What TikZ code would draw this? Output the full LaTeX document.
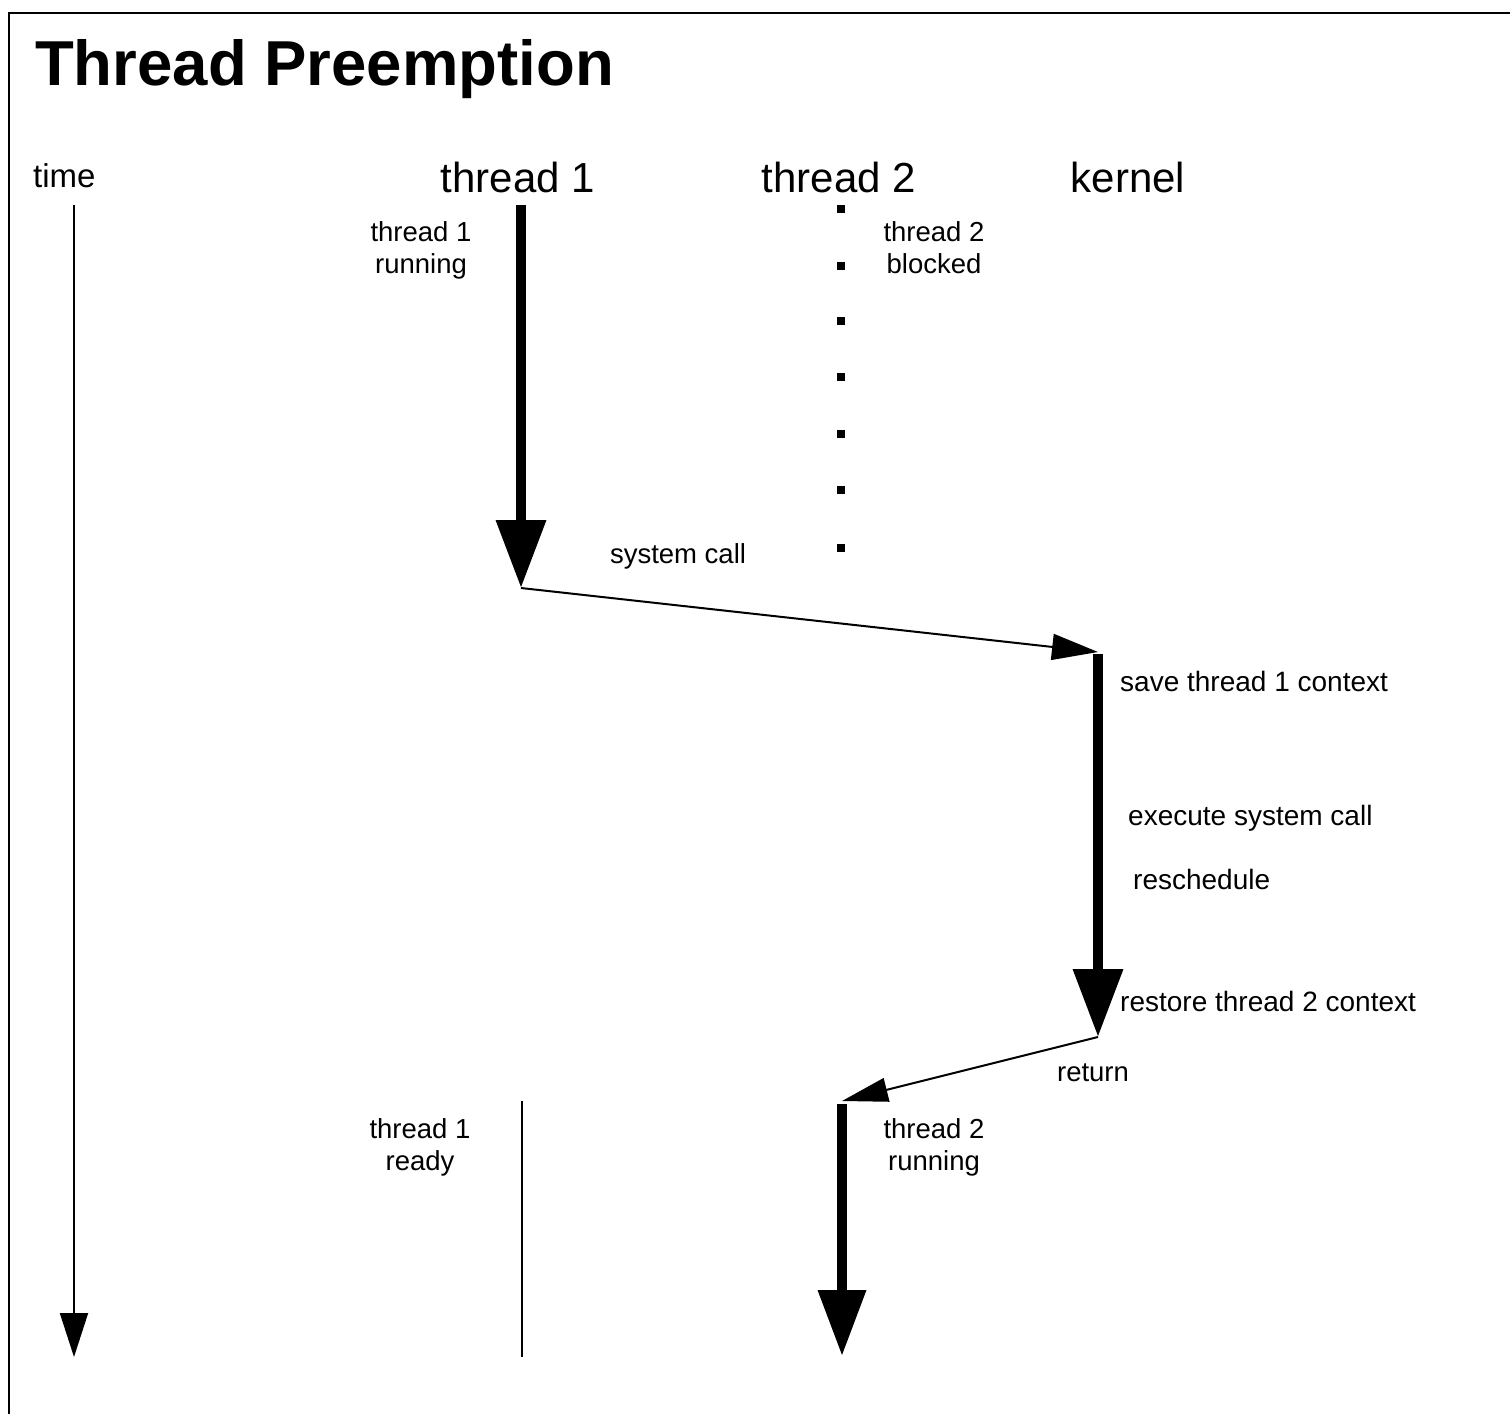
\documentclass[tikz,border=0pt]{standalone}
\usepackage{fontspec}
\setmainfont{Liberation Sans}
\usetikzlibrary{arrows.meta}
\tikzset{
  title/.style={anchor=base west,inner sep=0pt,font=\fontsize{63.5}{70}\selectfont\bfseries},
  header/.style={anchor=base,inner sep=0pt,font=\fontsize{42}{48}\selectfont},
  lbl/.style={inner sep=0pt,font=\fontsize{27.5}{32.5}\selectfont,align=center},
  lblw/.style={anchor=base west,inner sep=0pt,font=\fontsize{28}{32}\selectfont},
  thick arrow/.style={line width=10pt,-{Triangle[length=68pt,width=48pt]}},
  thin arrow/.style={line width=2pt,-{Triangle[length=46pt,width=26pt]}},
  thin line/.style={line width=2pt},
  frame/.style={line width=2.5pt},
}
\begin{document}
\begin{tikzpicture}[x=1pt,y=-1pt]
\useasboundingbox[fill=white] (0,0) rectangle (1510,1414);
% frame
\coordinate (fbl) at (9,1414);
\coordinate (ftl) at (9,13);
\coordinate (ftr) at (1510,13);
\draw[frame] (fbl) -- (ftl) -- (ftr);
% title and headers
\node[title] (ttl) at (35,85) {Thread Preemption};
\node[anchor=base west,inner sep=0pt,font=\fontsize{33}{36}\selectfont] (time) at (33,187) {time};
\node[header] (h1) at (518,192) {thread 1};
\node[header] (h2) at (839,192) {thread 2};
\node[header] (hk) at (1128,192) {kernel};
% coordinates
\coordinate (timetop) at (74,205);
\coordinate (timebot) at (74,1357);
\coordinate (t1top) at (521,205);
\coordinate (t1end) at (521,588);
\coordinate (ktop) at (1098,652);
\coordinate (kend) at (1098,1037);
\coordinate (t2top) at (842,1101);
\coordinate (t2end) at (842,1356);
\coordinate (r1top) at (522,1101);
\coordinate (r1bot) at (522,1357);
% time axis
\draw[line width=2pt,-{Triangle[length=44pt,width=28pt]}] (timetop) -- (timebot);
% thread 1 running
\draw[thick arrow] (t1top) -- (t1end);
% system call
\draw[thin arrow] (t1end) -- (ktop);
% kernel
\draw[thick arrow] ([yshift=-2pt]ktop) -- (kend);
% return
\draw[thin arrow,-{Triangle[length=46pt,width=24pt]}] (kend) -- (t2top);
% thread 2 running
\draw[thick arrow,-{Triangle[length=66pt,width=46pt]}] ([yshift=-3pt]t2top) -- (t2end);
% thread 1 ready
\draw[thin line] (r1top) -- (r1bot);
% thread 2 blocked dots
\foreach \y in {209,266,321,377,434,490,548}
  \fill (837,\y-4) rectangle (845,\y+4);
% labels
\node[lbl,anchor=north] (l1) at (421,221) {thread 1\\running};
\node[lbl,anchor=north] (l2) at (934,221) {thread 2\\blocked};
\node[lbl,anchor=base] (lsc) at (678,563) {system call};
\node[lblw] (lsave) at (1120,691) {save thread 1 context};
\node[lblw] (lexec) at (1128,825) {execute system call};
\node[lblw] (lres) at (1133,889) {reschedule};
\node[lblw] (lrest) at (1120,1011) {restore thread 2 context};
\node[lbl,anchor=base] (lret) at (1093,1081) {return};
\node[lbl,anchor=north] (l3) at (420,1118) {thread 1\\ready};
\node[lbl,anchor=north] (l4) at (934,1118) {thread 2\\running};
\end{tikzpicture}
\end{document}
